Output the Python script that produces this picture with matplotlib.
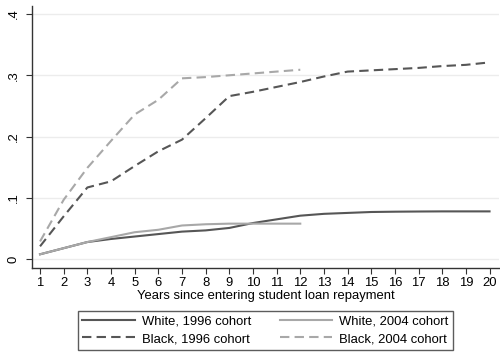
import matplotlib
matplotlib.use("Agg")
import matplotlib.pyplot as plt

plt.rcParams['font.family'] = ['Liberation Sans', 'DejaVu Sans']

years = list(range(1, 21))
years_2004 = list(range(1, 13))

white_1996 = [0.008, 0.018, 0.028, 0.033, 0.037, 0.041, 0.045, 0.047, 0.051, 0.059,
              0.065, 0.071, 0.074, 0.0755, 0.077, 0.0775, 0.0778, 0.078, 0.078, 0.078]
white_2004 = [0.008, 0.018, 0.028, 0.036, 0.044, 0.048, 0.055, 0.057, 0.058, 0.058,
              0.058, 0.058]
black_1996 = [0.021, 0.070, 0.117, 0.127, 0.152, 0.176, 0.195, 0.230, 0.266, 0.273,
              0.281, 0.289, 0.298, 0.306, 0.308, 0.310, 0.312, 0.315, 0.317, 0.321]
black_2004 = [0.029, 0.097, 0.149, 0.193, 0.236, 0.260, 0.295, 0.297, 0.300, 0.303,
              0.306, 0.309]

dark = '#565656'
light = '#a8a8a8'
fs = 9.4

fig = plt.figure(figsize=(5, 3.52), dpi=100)
ax = fig.add_axes([0.064, 0.238, 0.934, 0.745])

ax.plot(years, white_1996, color=dark, lw=1.5, label='White, 1996 cohort')
ax.plot(years_2004, white_2004, color=light, lw=1.5, label='White, 2004 cohort')
ax.plot(years, black_1996, color=dark, lw=1.5, ls=(0, (4.5, 2.5)), label='Black, 1996 cohort')
ax.plot(years_2004, black_2004, color=light, lw=1.5, ls=(0, (4.5, 2.5)), label='Black, 2004 cohort')

ax.set_xlim(0.66, 20.4)
ax.set_ylim(-0.0147, 0.413)
ax.set_xticks(years)
ax.set_yticks([0, 0.1, 0.2, 0.3, 0.4])
ax.set_yticklabels(['0', '.1', '.2', '.3', '.4'], rotation=90, va='center')
ax.tick_params(labelsize=fs, length=4, width=0.8, color='#333333', pad=2)
ax.tick_params(axis='y', pad=5)
ax.grid(axis='y', color='#ececec', lw=1)
ax.set_axisbelow(True)
for s in ['top', 'right']:
    ax.spines[s].set_visible(False)
for s in ['left', 'bottom']:
    ax.spines[s].set_color('#333333')
    ax.spines[s].set_linewidth(1)
ax.set_xlabel('Years since entering student loan repayment', fontsize=fs, labelpad=1)

handles, labels = ax.get_legend_handles_labels()
order = [0, 2, 1, 3]
leg = fig.legend([handles[i] for i in order], [labels[i] for i in order],
                 loc='upper center', bbox_to_anchor=(0.531, 0.1165), ncol=2,
                 fontsize=fs, frameon=True, fancybox=False, edgecolor='#333333',
                 handlelength=4.0, columnspacing=2.2, borderpad=0.35,
                 labelspacing=0.4, handletextpad=0.55, borderaxespad=0)
leg.get_frame().set_linewidth(1)

fig.savefig('out.png', dpi=100)
